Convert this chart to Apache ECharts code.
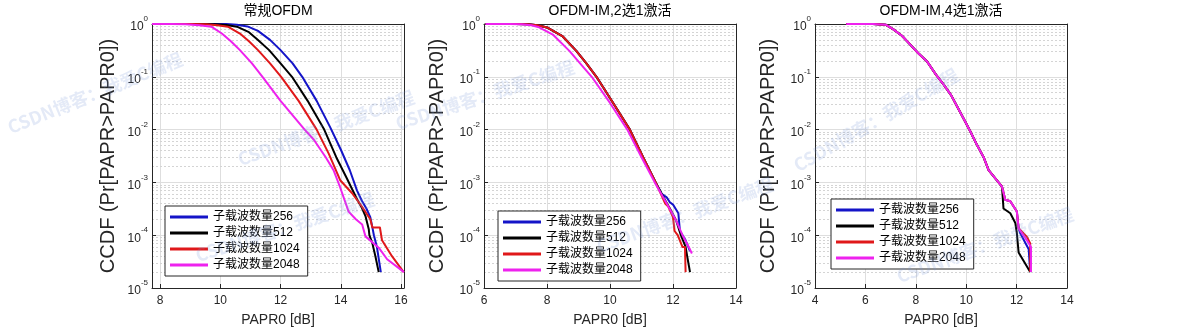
<!DOCTYPE html>
<html><head><meta charset="utf-8">
<script src="https://cdn.jsdelivr.net/npm/echarts@6/dist/echarts.min.js"></script>
<style>html,body{margin:0;padding:0;background:#fff}#c{width:1179px;height:332px}</style>
</head><body><div id="c"></div>
<script>
const seriesNames = ['子载波数量256','子载波数量512','子载波数量1024','子载波数量2048'];
const titles = ['常规OFDM','OFDM-IM,2选1激活','OFDM-IM,4选1激活'];
const xLabel = 'PAPR0 [dB]';
const yLabel = 'CCDF (Pr[PAPR>PAPR0])';
const xRanges = [[7.73,16.1],[6,14],[4,14]];
const yRange = [1e-5, 1];
const watermarkText = 'CSDN博客：我爱C编程';

// ---- subplot 1: 常规OFDM ----
const ofdm256 = [[7.73,1],[9.6,1],[10.2,0.995],[10.55,0.97],[10.9,0.90],[11.25,0.74],[11.65,0.50],[12.0,0.32],[12.4,0.18],[12.72,0.10],[13.2,0.035],[13.65,0.011],[14.0,0.0042],[14.3,0.0017],[14.54,0.0007],[14.7,0.00045],[14.85,0.00032],[14.98,0.00022],[15.04,0.00015],[15.1,0.0001],[15.2,0.00006],[15.33,0.00002]];
const ofdm512 = [[7.73,1],[9.3,1],[9.85,0.99],[10.2,0.96],[10.55,0.89],[10.95,0.70],[11.25,0.50],[11.62,0.32],[12.0,0.18],[12.38,0.10],[12.9,0.035],[13.45,0.010],[13.85,0.003],[14.2,0.0012],[14.54,0.00048],[14.7,0.00033],[14.82,0.00023],[14.93,0.00013],[14.95,0.0001],[15.05,0.00007],[15.15,0.00004],[15.26,0.00002]];
const ofdm1024 = [[7.73,1],[9.0,1],[9.55,0.985],[9.9,0.95],[10.25,0.89],[10.65,0.66],[10.95,0.47],[11.25,0.32],[11.65,0.18],[12.02,0.10],[12.6,0.035],[13.2,0.010],[13.6,0.0035],[13.98,0.0011],[14.37,0.00063],[14.7,0.00035],[14.98,0.0002],[15.05,0.00014],[15.3,0.00014],[15.37,0.00008],[15.7,0.00004],[16.09,0.00002]];
const ofdm2048 = [[7.73,1],[8.4,1],[8.85,0.99],[9.3,0.95],[9.7,0.89],[10.05,0.66],[10.35,0.47],[10.65,0.32],[11.05,0.18],[11.4,0.10],[12.0,0.035],[12.8,0.010],[13.1,0.0065],[13.5,0.003],[13.76,0.0017],[13.98,0.0008],[14.26,0.00028],[14.5,0.0002],[14.71,0.00016],[14.82,0.000095],[15.26,0.000058],[15.54,0.000035],[16.1,0.00002]];

// ---- subplot 2: OFDM-IM 2选1 ----
const im2_256 = [[6.05,1],[7.0,1],[7.4,0.99],[7.7,0.95],[8.0,0.86],[8.5,0.58],[8.93,0.31],[9.25,0.18],[9.57,0.10],[10.1,0.032],[10.63,0.010],[11.05,0.003],[11.45,0.001],[11.65,0.0006],[11.8,0.00052],[11.9,0.00042],[12.0,0.00038],[12.17,0.00026],[12.22,0.00012],[12.4,0.00008],[12.54,0.00005]];
const im2_512 = [[6.05,1],[7.0,1],[7.4,0.99],[7.7,0.95],[8.0,0.86],[8.5,0.58],[8.93,0.31],[9.25,0.18],[9.57,0.10],[10.1,0.032],[10.63,0.010],[11.05,0.003],[11.45,0.001],[11.7,0.00052],[11.9,0.00032],[12.1,0.00019],[12.25,0.0001],[12.4,0.00006],[12.45,0.00004],[12.54,0.00002]];
const im2_1024 = [[6.05,1],[7.0,1],[7.4,0.99],[7.7,0.95],[8.0,0.86],[8.5,0.58],[8.93,0.31],[9.25,0.18],[9.57,0.10],[10.1,0.032],[10.63,0.010],[11.05,0.003],[11.45,0.001],[11.75,0.0004],[11.85,0.00035],[12.0,0.00022],[12.05,0.00012],[12.15,0.0001],[12.3,0.00006],[12.38,0.00006],[12.4,0.00002]];
const im2_2048 = [[6.05,1],[6.8,1],[7.2,0.99],[7.5,0.95],[7.72,0.88],[8.2,0.62],[8.71,0.31],[9.05,0.18],[9.42,0.10],[10.0,0.032],[10.55,0.010],[11.0,0.003],[11.42,0.001],[11.8,0.0004],[12.1,0.00019],[12.3,0.0001],[12.5,0.00006],[12.6,0.000045]];

// ---- subplot 3: OFDM-IM 4选1 ----
const im4_256 = [[5.24,1],[6.3,1],[6.8,0.97],[7.11,0.79],[7.45,0.6],[7.77,0.41],[8.1,0.28],[8.43,0.2],[8.8,0.11],[9.1,0.072],[9.4,0.045],[9.63,0.028],[9.9,0.016],[10.16,0.0093],[10.42,0.0052],[10.69,0.003],[10.89,0.0017],[11.09,0.0013],[11.42,0.00083],[11.55,0.00047],[11.75,0.00044],[12.01,0.00028],[12.08,0.000135],[12.14,0.00011],[12.48,0.000054],[12.54,0.00002]];
const im4_512 = [[5.24,1],[6.3,1],[6.8,0.97],[7.11,0.79],[7.45,0.6],[7.77,0.41],[8.1,0.28],[8.43,0.2],[8.8,0.11],[9.1,0.072],[9.4,0.045],[9.63,0.028],[9.9,0.016],[10.16,0.0093],[10.42,0.0052],[10.69,0.003],[10.89,0.0017],[11.09,0.0013],[11.42,0.00083],[11.48,0.00032],[11.75,0.00026],[11.95,0.00017],[12.01,0.00011],[12.08,0.000047],[12.54,0.00002]];
const im4_1024 = [[5.24,1],[6.3,1],[6.8,0.97],[7.11,0.79],[7.45,0.6],[7.77,0.41],[8.1,0.28],[8.43,0.2],[8.8,0.11],[9.1,0.072],[9.4,0.045],[9.63,0.028],[9.9,0.016],[10.16,0.0093],[10.42,0.0052],[10.69,0.003],[10.89,0.0017],[11.09,0.0013],[11.42,0.00083],[11.55,0.00047],[11.75,0.00044],[12.01,0.00028],[12.08,0.000135],[12.41,0.000093],[12.54,0.00007],[12.54,0.00002]];
const im4_2048 = [[5.24,1],[6.3,1],[6.8,0.97],[7.11,0.79],[7.45,0.6],[7.77,0.41],[8.1,0.28],[8.43,0.2],[8.8,0.11],[9.1,0.072],[9.4,0.045],[9.63,0.028],[9.9,0.016],[10.16,0.0093],[10.42,0.0052],[10.69,0.003],[10.89,0.0017],[11.09,0.0013],[11.42,0.00083],[11.55,0.00047],[11.75,0.00044],[12.01,0.00028],[12.08,0.000135],[12.41,0.00008],[12.57,0.00006],[12.57,0.00002]];

const panels = [
  [ofdm256, ofdm512, ofdm1024, ofdm2048],
  [im2_256, im2_512, im2_1024, im2_2048],
  [im4_256, im4_512, im4_1024, im4_2048]
];

const colors = ['#1414c8','#000000','#e0181a','#ee22ee'];
const FONT = "'Liberation Sans', 'Noto Sans CJK SC', sans-serif";
const AX = '#262626';
const gridBoxes = [
  {left:152, top:24, width:252, height:264},
  {left:484, top:24, width:252, height:264},
  {left:815, top:24, width:252, height:264}
];
const legendPos = [{left:165, top:206},{left:498, top:211},{left:831, top:199}];
const titleCenters = [278, 610, 941];
const yNameGaps = [34, 37, 37];

// minor log grid positions (2..9 x 10^k)
const minorGrid = [];
for (let k = -5; k < 0; k++) for (let m = 2; m <= 9; m++) minorGrid.push(m * Math.pow(10, k));

const xAxes = [], yAxes = [], series = [], legends = [], titleArr = [];
panels.forEach((panel, i) => {
  const [xmin, xmax] = xRanges[i];
  const xFmt = v => (Math.abs(v - Math.round(v)) < 1e-6 && Math.round(v) % 2 === 0) ? String(Math.round(v)) : '';
  const xa = {
    type:'value', gridIndex:i, min:xmin, max:xmax,
    name: xLabel, nameLocation:'middle', nameGap:25,
    nameTextStyle:{fontSize:14, color:AX, fontFamily:FONT},
    axisLine:{show:true, onZero:false, lineStyle:{color:AX, width:1}},
    axisTick:{show:true, inside:true, length:4, lineStyle:{color:AX}},
    axisLabel:{fontSize:12, color:AX, fontFamily:FONT, margin:7, formatter:xFmt, showMinLabel:true, showMaxLabel:true},
    splitLine:{show:true, lineStyle:{color:'#dedede', width:1}}
  };
  if (i === 0) { xa.splitNumber = 4; } else { xa.interval = 2; }
  xAxes.push(xa);
  yAxes.push({
    type:'log', logBase:10, gridIndex:i, min:yRange[0], max:yRange[1],
    name: yLabel, nameLocation:'middle', nameGap:yNameGaps[i], nameRotate:90,
    nameTextStyle:{fontSize:20, color:AX, fontFamily:FONT},
    axisLine:{show:true, onZero:false, lineStyle:{color:AX, width:1}},
    axisTick:{show:true, inside:true, length:4, lineStyle:{color:AX}},
    axisLabel:{margin:4, formatter: v => '{b|10}{s|' + Math.round(Math.log10(v)) + '}',
      rich:{ b:{fontSize:12, color:AX, fontFamily:FONT, lineHeight:18, verticalAlign:'bottom'},
             s:{fontSize:8, color:AX, fontFamily:FONT, lineHeight:10, verticalAlign:'top'} }},
    splitLine:{show:true, lineStyle:{color:'#dedede', width:1}}
  });
  titleArr.push({text:titles[i], left:titleCenters[i], top:4, textAlign:'center', padding:0,
    textStyle:{fontSize:14, fontWeight:'normal', color:'#000', fontFamily:FONT}});
  legends.push(Object.assign({
    orient:'vertical', data:seriesNames, icon:'rect', itemWidth:38, itemHeight:3, itemGap:4,
    padding:[5,8,5,5], borderColor:AX, borderWidth:1, backgroundColor:'#fff', selectedMode:false,
    textStyle:{fontSize:12, color:'#000', fontFamily:FONT}, z:10
  }, legendPos[i]));
  series.push({
    type:'line', xAxisIndex:i, yAxisIndex:i, data:[], silent:true, z:0, zlevel:0,
    markLine:{silent:true, symbol:'none', animation:false, precision:10, z:0, label:{show:false},
      lineStyle:{type:[2,2], color:'#d4d4d4', width:1},
      data: minorGrid.map(v => ({yAxis:v}))}
  });
  panel.forEach((d, j) => {
    series.push({
      name: seriesNames[j], type:'line', xAxisIndex:i, yAxisIndex:i, data:d,
      symbol:'none', z:5, smooth:false,
      lineStyle:{color:colors[j], width:2, join:'round'}, itemStyle:{color:colors[j]}
    });
  });
});
// frame: top and right axes
panels.forEach((p, i) => {
  xAxes.push({type:'value', gridIndex:i, position:'top', min:xRanges[i][0], max:xRanges[i][1],
    axisLine:{show:true, onZero:false, lineStyle:{color:AX}}, axisTick:{show:false}, axisLabel:{show:false}, splitLine:{show:false}});
  yAxes.push({type:'log', gridIndex:i, position:'right', min:yRange[0], max:yRange[1],
    axisLine:{show:true, onZero:false, lineStyle:{color:AX}}, axisTick:{show:false}, axisLabel:{show:false}, splitLine:{show:false}});
});

const wm = [[95,93,22],[326,128,20],[285,227,18],[485,95,18],[685,215,20],[876,120,30],[985,245,20]];
const graphics = wm.map(([x,y,a]) => ({
  type:'text', x:x, y:y, rotation:a*Math.PI/180, z:20, silent:true,
  style:{text:watermarkText, fill:'rgba(120,150,215,0.2)', font:"bold 18px 'Noto Sans CJK SC'", align:'center', verticalAlign:'middle'}
}));

const chart = echarts.init(document.getElementById('c'), null, {renderer:'canvas'});
chart.setOption({
  animation:false, backgroundColor:'#fff',
  title:titleArr, legend:legends, grid:gridBoxes,
  xAxis:xAxes, yAxis:yAxes, series:series, graphic:graphics
});
</script></body></html>
